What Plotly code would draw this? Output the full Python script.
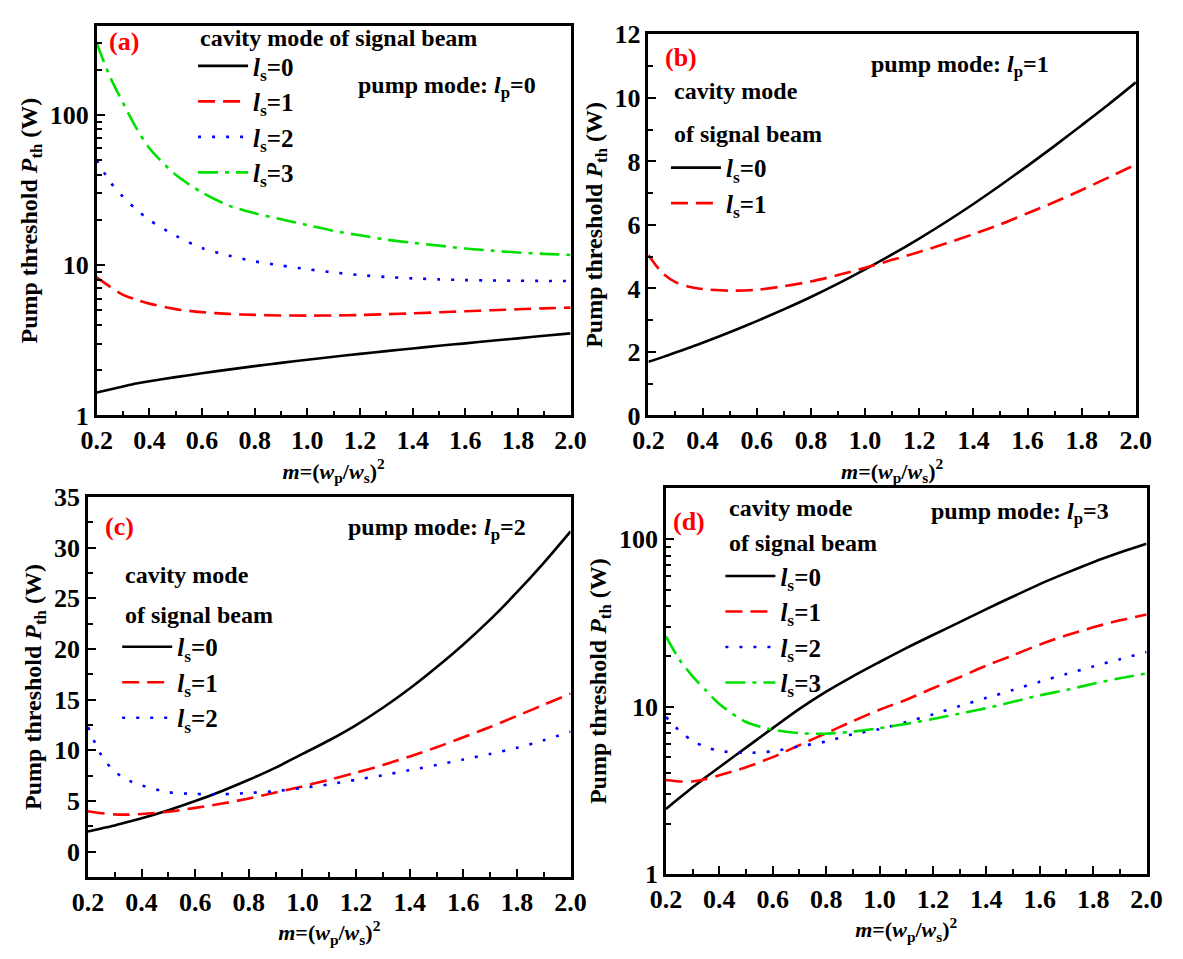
import plotly.graph_objects as go

# ---------------- data ----------------
m = [0.2, 0.25, 0.3, 0.35, 0.4, 0.5, 0.6, 0.7, 0.8, 0.9, 1.0,
     1.1, 1.2, 1.3, 1.4, 1.5, 1.6, 1.7, 1.8, 1.9, 2.0]

# (a) pump mode lp=0
a_ls0 = [1.42, 1.49, 1.56, 1.63, 1.69, 1.80, 1.91, 2.02, 2.13, 2.24, 2.35,
         2.46, 2.57, 2.68, 2.79, 2.91, 3.02, 3.14, 3.26, 3.39, 3.52]
a_ls1 = [8.3, 7.2, 6.35, 5.9, 5.55, 5.1, 4.87, 4.74, 4.67, 4.63, 4.62,
         4.63, 4.66, 4.72, 4.78, 4.86, 4.94, 5.02, 5.09, 5.16, 5.22]
a_ls2 = [50, 36, 28.5, 23.5, 20, 15.7, 13.0, 11.6, 10.6, 9.95, 9.4,
         8.95, 8.6, 8.35, 8.17, 8.05, 7.96, 7.91, 7.88, 7.86, 7.85]
a_ls3 = [300, 180, 120, 82, 60, 40, 30.5, 25, 22.2, 20.2, 18.5,
         16.9, 15.8, 14.8, 14.1, 13.5, 12.9, 12.5, 12.15, 11.9, 11.7]

# (b) pump mode lp=1
b_ls0 = [1.69, 1.83, 1.98, 2.13, 2.29, 2.62, 2.97, 3.34, 3.73, 4.15, 4.6,
         5.07, 5.57, 6.10, 6.66, 7.25, 7.86, 8.49, 9.14, 9.8, 10.49]
b_ls1 = [5.05, 4.5, 4.2, 4.05, 3.98, 3.93, 3.96, 4.07, 4.22, 4.42, 4.65,
         4.9, 5.15, 5.42, 5.71, 6.02, 6.37, 6.72, 7.1, 7.5, 7.9]

# (c) pump mode lp=2
c_ls0 = [2.0, 2.3, 2.6, 2.95, 3.3, 4.1, 5.0, 6.0, 7.1, 8.3, 9.65,
         11.0, 12.5, 14.2, 16.1, 18.2, 20.45, 22.9, 25.6, 28.5, 31.6]
c_ls1 = [4.0, 3.8, 3.68, 3.66, 3.72, 3.95, 4.33, 4.75, 5.25, 5.85, 6.45,
         7.1, 7.8, 8.55, 9.4, 10.3, 11.3, 12.3, 13.4, 14.5, 15.6]
c_ls2 = [12.3, 9.5, 7.9, 7.05, 6.55, 5.88, 5.7, 5.67, 5.8, 5.98, 6.3,
         6.65, 7.1, 7.55, 8.05, 8.55, 9.1, 9.65, 10.25, 11.0, 11.85]

# (d) pump mode lp=3
d_ls0 = [2.45, 2.85, 3.3, 3.8, 4.35, 5.7, 7.45, 9.7, 12.3, 15.2, 18.5,
         22.4, 26.8, 32.0, 38.3, 45.5, 54, 63, 73, 83.3, 94]
d_ls1 = [3.65, 3.58, 3.58, 3.7, 3.9, 4.35, 5.0, 5.9, 6.95, 8.2, 9.6,
         11.0, 12.9, 15.0, 17.6, 20.3, 23.5, 26.7, 29.8, 32.8, 35.5]
d_ls2 = [8.7, 7.2, 6.25, 5.75, 5.45, 5.3, 5.42, 5.8, 6.2, 6.85, 7.35,
         8.1, 9.0, 10.1, 11.3, 12.6, 14.1, 15.7, 17.4, 19.2, 21.2]
d_ls3 = [26.3, 19.2, 15.2, 12.5, 10.4, 8.1, 7.3, 6.95, 6.9, 7.1, 7.45,
         7.9, 8.45, 9.1, 9.8, 10.7, 11.7, 12.6, 13.7, 14.8, 15.8]

x_ticks = [0.2, 0.4, 0.6, 0.8, 1.0, 1.2, 1.4, 1.6, 1.8, 2.0]
log_ticks = [1, 10, 100]
log_ticktext = ["1", "10", "100"]
log_minor = [2, 3, 4, 5, 6, 7, 8, 9, 20, 30, 40, 50, 60, 70, 80, 90, 200, 300]

legend_names = ["<i>l</i><sub>s</sub>=0", "<i>l</i><sub>s</sub>=1",
                "<i>l</i><sub>s</sub>=2", "<i>l</i><sub>s</sub>=3"]

# ---------------- styling ----------------
W, H = 1183, 959
FONT = "Liberation Serif"


def px(x):
    return x / W


def py(y):
    return 1 - y / H


styles = [
    dict(color="#000000", dash="solid"),
    dict(color="#ff0000", dash="17px,8px"),
    dict(color="#0000ff", dash="3px,11px"),
    dict(color="#00e000", dash="20px,7px,4px,7px"),
]

panels = [
    dict(key="", series=[a_ls0, a_ls1, a_ls2, a_ls3], xpx=(83, 570), ypx=(12, 414),
         log=True, yrange=[0, 2.594], legend="legend", leg=(182, 30), gap=0,
         label="(a)", labpos=(111, 28), pump="0", pumppos=(443, 75),
         titles=[("cavity mode of signal beam", 187, 25)]),
    dict(key="2", series=[b_ls0, b_ls1], xpx=(650, 1151), ypx=(21, 414),
         log=False, yrange=[0, 12], dtick=2, minor=1, legend="legend2", leg=(668, 135), gap=6,
         label="(b)", labpos=(684, 45), pump="1", pumppos=(970, 54),
         titles=[("cavity mode", 674, 79), ("of signal beam", 674, 124)]),
    dict(key="3", series=[c_ls0, c_ls1, c_ls2], xpx=(74, 570), ypx=(498, 890),
         log=False, yrange=[-2.5, 35], dtick=5, minor=2.5, legend="legend3", leg=(104, 629), gap=3,
         label="(c)", labpos=(106, 528), pump="2", pumppos=(433, 531),
         titles=[("cavity mode", 110, 578), ("of signal beam", 110, 620)]),
    dict(key="4", series=[d_ls0, d_ls1, d_ls2, d_ls3], xpx=(668, 1162), ypx=(489, 887),
         log=True, yrange=[0, 2.305], legend="legend4", leg=(724, 556), gap=0,
         label="(d)", labpos=(692, 523), pump="3", pumppos=(1032, 515),
         titles=[("cavity mode", 731, 509), ("of signal beam", 731, 546)]),
]

fig = go.Figure()
annotations = []
layout = dict(
    width=W, height=H,
    margin=dict(l=0, r=0, t=0, b=0),
    paper_bgcolor="white", plot_bgcolor="white",
    font=dict(family=FONT, color="black", size=20, weight="bold"),
)

tickfont = dict(family=FONT, size=26, color="black", weight="bold")
xtitlefont = dict(family=FONT, size=22, color="black", weight="bold")
ytitlefont = dict(family=FONT, size=24, color="black", weight="bold")
textfont = dict(family=FONT, size=24, color="black", weight="bold")

for p in panels:
    k = p["key"]
    xa = "xaxis" + k
    ya = "yaxis" + k
    for i, ser in enumerate(p["series"]):
        st = styles[i]
        fig.add_trace(go.Scatter(
            x=m, y=ser, mode="lines", name=legend_names[i],
            xaxis="x" + k, yaxis="y" + k, legend=p["legend"],
            legendgroup="p%s_%d" % (k, i),
            line=dict(color=st["color"], dash=st["dash"], width=2.6, shape="spline", smoothing=0.8),
            showlegend=True,
        ))
    layout[xa] = dict(
        domain=[px(p["xpx"][0]), px(p["xpx"][1])],
        anchor="y" + k, range=[0.2, 2.0],
        tickvals=x_ticks, tickformat=".1f",
        ticks="inside", ticklen=8, tickwidth=2, tickcolor="black",
        minor=dict(dtick=0.1, tick0=0.2, ticks="inside", ticklen=5, tickwidth=2, tickcolor="black"),
        showline=True, linewidth=2.5, linecolor="black", mirror=True,
        showgrid=False, zeroline=False,
        tickfont=tickfont,
        title=dict(text="<i>m</i>=(<i>w</i><sub>p</sub>/<i>w</i><sub>s</sub>)<sup>2</sup>",
                   font=xtitlefont, standoff=4),
    )
    yd = dict(
        domain=[py(p["ypx"][1]), py(p["ypx"][0])],
        anchor="x" + k,
        ticks="inside", ticklen=8, tickwidth=2, tickcolor="black",
        showline=True, linewidth=2.5, linecolor="black", mirror=True,
        showgrid=False, zeroline=False,
        tickfont=tickfont,
        title=dict(text="Pump threshold <i>P</i><sub>th</sub> (W)", font=ytitlefont, standoff=6),
    )
    if p["log"]:
        yd.update(type="log", range=p["yrange"], tickvals=log_ticks, ticktext=log_ticktext,
                  minor=dict(tickvals=log_minor, ticks="inside", ticklen=5, tickwidth=2,
                             tickcolor="black"))
    else:
        yd.update(range=p["yrange"], tick0=0, dtick=p["dtick"],
                  minor=dict(tick0=0, dtick=p["minor"], ticks="inside", ticklen=5, tickwidth=2,
                             tickcolor="black"))
    layout[ya] = yd

    layout[p["legend"]] = dict(
        x=px(p["leg"][0]), y=py(p["leg"][1]), xanchor="left", yanchor="top",
        bgcolor="rgba(0,0,0,0)", borderwidth=0,
        font=dict(family=FONT, size=25, color="black", weight="bold"),
        itemwidth=50, tracegroupgap=p["gap"], traceorder="normal",
    )

    annotations.append(dict(
        text=p["label"], x=px(p["labpos"][0]), y=py(p["labpos"][1]),
        xref="paper", yref="paper", xanchor="center", yanchor="middle", showarrow=False,
        font=dict(family=FONT, size=26, color="#ff0000", weight="bold")))
    annotations.append(dict(
        text="pump mode: <i>l</i><sub>p</sub>=" + p["pump"],
        x=px(p["pumppos"][0]), y=py(p["pumppos"][1]),
        xref="paper", yref="paper", xanchor="center", yanchor="middle", showarrow=False,
        font=textfont))
    for (t, tx, ty) in p["titles"]:
        annotations.append(dict(
            text=t, x=px(tx), y=py(ty), xref="paper", yref="paper",
            xanchor="left", yanchor="middle", showarrow=False,
            font=textfont))

layout["annotations"] = annotations
fig.update_layout(**layout)
fig.write_html("out.html", config={"displayModeBar": False},
               post_script="document.body.style.margin='0px';")
